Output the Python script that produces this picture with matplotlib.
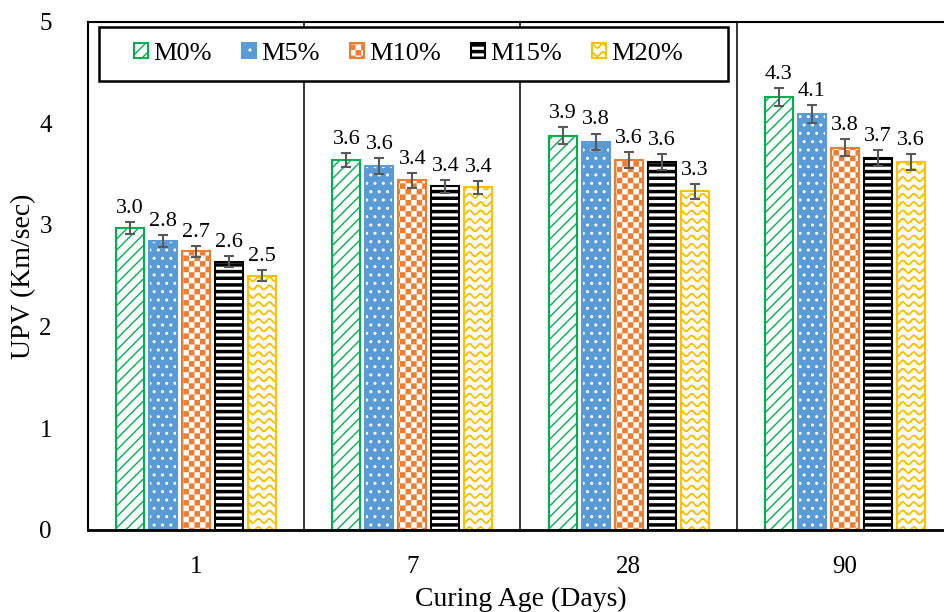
import numpy as np
import matplotlib
matplotlib.use('Agg')
import matplotlib.pyplot as plt
from matplotlib import hatch as mhatch
from matplotlib.colors import to_rgba
from matplotlib.path import Path
from matplotlib.patches import Rectangle

ages = ['1', '7', '28', '90']
mixes = ['M0%', 'M5%', 'M10%', 'M15%', 'M20%']

# mean UPV (km/s) per curing age
m0 = [2.97, 3.64, 3.88, 4.26]
m5 = [2.84, 3.58, 3.82, 4.09]
m10 = [2.74, 3.44, 3.64, 3.76]
m15 = [2.64, 3.38, 3.62, 3.66]
m20 = [2.50, 3.37, 3.33, 3.62]

# standard deviations
m0_err = [0.055, 0.070, 0.080, 0.087]
m5_err = [0.060, 0.077, 0.079, 0.090]
m10_err = [0.055, 0.074, 0.079, 0.085]
m15_err = [0.055, 0.065, 0.075, 0.079]
m20_err = [0.055, 0.062, 0.072, 0.080]

HATCH_LW = 1.0
LW = HATCH_LW / 72.0  # hatch stroke width in tile units (tile = 1 inch)

MOVE, LINE, CLOSE = Path.MOVETO, Path.LINETO, Path.CLOSEPOLY


class CheckerHatch(mhatch.HatchPatternBase):
    # '*' -> filled checkerboard
    def __init__(self, hatch, density):
        self.n = 18 * hatch.count('*')
        self.num_vertices = 5 * (self.n * self.n // 2)

    def set_vertices_and_codes(self, vertices, codes):
        d = 1.0 / self.n
        s = LW / 2
        k = 0
        for i in range(self.n):
            for j in range(self.n):
                if (i + j) % 2:
                    continue
                x0, y0 = i * d + s, j * d + s
                x1, y1 = x0 + d - 2 * s, y0 + d - 2 * s
                vertices[k:k + 5] = [(x0, y0), (x1, y0), (x1, y1), (x0, y1), (x0, y0)]
                codes[k:k + 5] = [MOVE, LINE, LINE, LINE, CLOSE]
                k += 5


class StripeHatch(mhatch.HatchPatternBase):
    # 'O' -> thick horizontal bands
    def __init__(self, hatch, density):
        self.n = 15 * hatch.count('O')
        self.num_vertices = 5 * self.n

    def set_vertices_and_codes(self, vertices, codes):
        d = 1.0 / self.n
        h = 0.52 * d - LW
        for i in range(self.n):
            y0 = i * d + LW / 2
            vertices[5 * i:5 * i + 5] = [(0, y0), (1, y0), (1, y0 + h), (0, y0 + h), (0, y0)]
            codes[5 * i:5 * i + 5] = [MOVE, LINE, LINE, LINE, CLOSE]


class WaveHatch(mhatch.HatchPatternBase):
    # 'o' -> wavy lines (traced out and back so nothing gets filled)
    def __init__(self, hatch, density):
        self.rows = 12 * hatch.count('o')
        self.pts = 73
        self.num_vertices = 2 * self.pts * self.rows

    def set_vertices_and_codes(self, vertices, codes):
        xs = np.linspace(0, 1, self.pts)
        ys = 0.022 * np.sin(2 * np.pi * 9 * xs)
        m = 2 * self.pts
        for r in range(self.rows):
            yc = (r + 0.5) / self.rows
            line = np.column_stack([xs, yc + ys])
            vertices[r * m:(r + 1) * m] = np.vstack([line, line[::-1]])
            codes[r * m:(r + 1) * m] = LINE
            codes[r * m] = MOVE


mhatch._hatch_types = [mhatch.HorizontalHatch, mhatch.VerticalHatch,
                       mhatch.NorthEastHatch, mhatch.SouthEastHatch,
                       mhatch.SmallFilledCircles,
                       CheckerHatch, StripeHatch, WaveHatch]

plt.rcParams['font.family'] = ['Liberation Serif', 'DejaVu Serif']
plt.rcParams['hatch.linewidth'] = HATCH_LW

styles = [
    dict(face='white', edge='#00B050', hatch='///', hcolor=None),
    dict(face='#5B9BD5', edge='#5B9BD5', hatch='..', hcolor='white'),
    dict(face='white', edge='#ED7D31', hatch='*', hcolor=None),
    dict(face='white', edge='black', hatch='O', hcolor=None),
    dict(face='white', edge='#FFC000', hatch='o', hcolor=None),
]

fig = plt.figure(figsize=(9.44, 6.12), dpi=100)
ax = fig.add_axes([0.0932, 0.134, 0.9163, 0.8306])

x = np.arange(len(ages))
pitch = 0.1526
width = 0.129

series = [m0, m5, m10, m15, m20]
errors = [m0_err, m5_err, m10_err, m15_err, m20_err]

handles = []
for i, (vals, errs, st, name) in enumerate(zip(series, errors, styles, mixes)):
    pos = x + (i - 2) * pitch
    bars = ax.bar(pos, vals, width, facecolor=st['face'], edgecolor=st['edge'],
                  linewidth=1.5, hatch=st['hatch'], label=name, zorder=2)
    if st['hcolor']:
        for p in bars:
            p._hatch_color = to_rgba(st['hcolor'])
    handles.append(bars)
    ax.errorbar(pos, vals, yerr=errs, fmt='none', ecolor='#595959',
                elinewidth=1.5, capsize=3.5, capthick=1.5, zorder=3)
    for xp, v, e in zip(pos, vals, errs):
        ax.annotate(f'{v:.1f}', (xp, v + e), xytext=(0, 3), textcoords='offset points',
                    ha='center', va='bottom', fontsize=16)

# group separators
for b in [0.5, 1.5, 2.5]:
    ax.axvline(b, color='black', lw=1.1, zorder=1)

ax.set_xlim(-0.5, 3.5)
ax.set_ylim(0, 5)
ax.set_xticks(x)
ax.set_xticklabels(ages)
ax.set_yticks(range(6))
ax.tick_params(axis='x', length=0, labelsize=18, pad=19)
ax.tick_params(axis='y', length=0, labelsize=18, pad=26)
ax.set_xlabel('Curing Age (Days)', fontsize=20, labelpad=6)
ax.set_ylabel('UPV (Km/sec)', fontsize=20, labelpad=2)

for side in ['left', 'top', 'right']:
    ax.spines[side].set_linewidth(1.5)
ax.spines['bottom'].set_linewidth(2)

# legend box
ax.add_patch(Rectangle((0.0127, 0.884), 0.7273, 0.105, transform=ax.transAxes,
                       facecolor='white', edgecolor='black', lw=1.8, zorder=4))
ax.legend(handles=handles, loc='center left', bbox_to_anchor=(0.0532, 0.9365),
          ncol=5, frameon=False, fontsize=19, borderpad=0, borderaxespad=0,
          handlelength=0.53, handleheight=0.53, handletextpad=0.2,
          columnspacing=1.14)

fig.savefig('out.png', dpi=100)
